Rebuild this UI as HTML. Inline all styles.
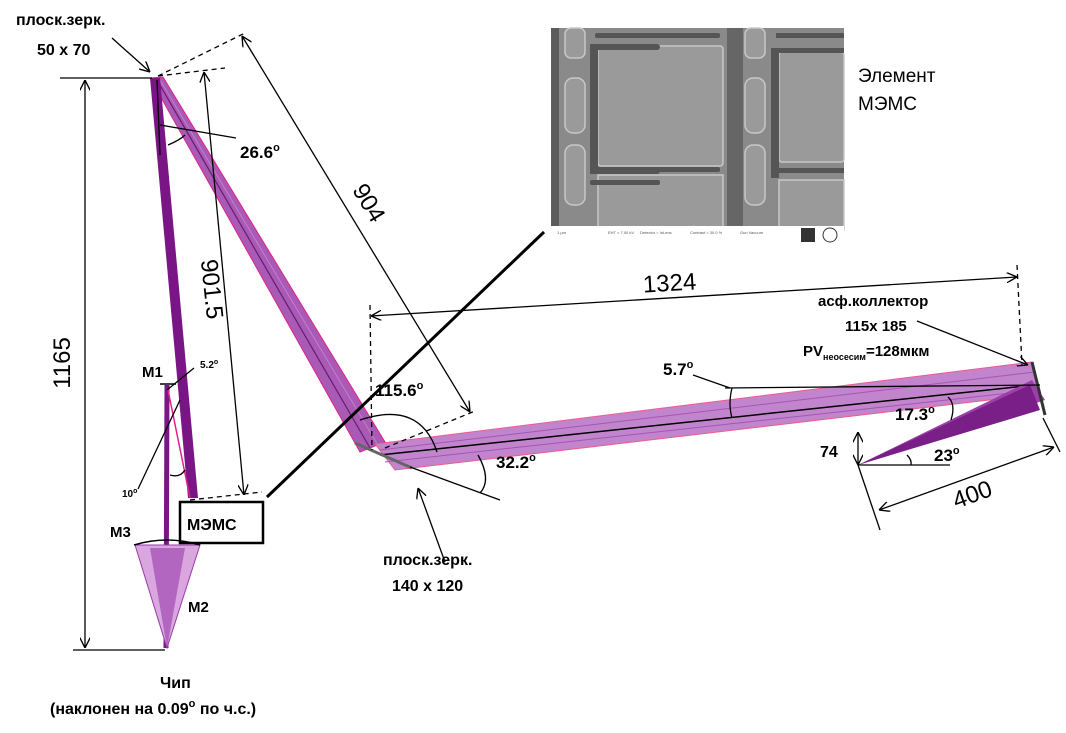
<!DOCTYPE html>
<html><head><meta charset="utf-8"><style>
html,body{margin:0;padding:0;background:#fff;}
svg{display:block;font-family:"Liberation Sans","DejaVu Sans",sans-serif;}
</style></head><body>
<svg width="1066" height="733" viewBox="0 0 1066 733" xmlns="http://www.w3.org/2000/svg">
<defs>
<marker id="a" viewBox="0 0 10 10" refX="10" refY="5" markerWidth="8" markerHeight="8" orient="auto-start-reverse"><path d="M0,0 L10,5 L0,10" fill="none" stroke="#000" stroke-width="1.3"/></marker>
</defs>
<rect width="1066" height="733" fill="#fff"/>

<!-- beams -->
<polygon points="150,78 163,77 385,442 360,452" fill="#a95ab5" stroke="#e0208a" stroke-width="1"/>
<line x1="157" y1="80" x2="370" y2="448" stroke="#6a1a70" stroke-width="1.2"/>
<line x1="160" y1="80" x2="378" y2="445" stroke="#c37fcc" stroke-width="1"/>
<polygon points="375,444 1032,362 1040,394 395,470" fill="#c284cd" stroke="#ee5c8a" stroke-width="1"/>
<g stroke="#a257b0" stroke-width="1">
<line x1="380" y1="450" x2="1035" y2="372"/>
<line x1="385" y1="462" x2="1037" y2="390"/>
</g>
<line x1="380" y1="455" x2="1035" y2="385" stroke="#000" stroke-width="1.5"/>
<polygon points="1032,380 1045,400 858,465" fill="#9c3fa8"/>
<polygon points="1030,385 1040,410 858,465" fill="#7a1f88"/>
<polygon points="150,78 160,78 198,498 188,498" fill="#7a1585"/>
<line x1="167" y1="385" x2="166" y2="648" stroke="#7a1585" stroke-width="5"/>
<line x1="168" y1="390" x2="190" y2="498" stroke="#e0208a" stroke-width="1.5"/>
<polygon points="135,545 200,545 167,648" fill="#d9a6e0" stroke="#9a3aa8" stroke-width="1"/>
<polygon points="150,548 185,548 167,648" fill="#a24cb0" opacity="0.7"/>
<path d="M134,545 Q167,535 200,545" fill="none" stroke="#000" stroke-width="1.5"/>
<line x1="160" y1="384" x2="176" y2="384" stroke="#000" stroke-width="1.5"/>
<line x1="355" y1="443" x2="412" y2="468" stroke="#666" stroke-width="3"/>
<line x1="1032" y1="362" x2="1045" y2="415" stroke="#333" stroke-width="3"/>

<!-- dimension lines -->
<g stroke="#000" stroke-width="1.3" fill="none">
<line x1="60" y1="78" x2="152" y2="78"/>
<line x1="73" y1="650" x2="165" y2="650"/>
<line x1="85" y1="80" x2="85" y2="648" marker-start="url(#a)" marker-end="url(#a)"/>
<line x1="242" y1="36" x2="470" y2="412" marker-start="url(#a)" marker-end="url(#a)"/>
<line x1="204" y1="72" x2="244" y2="495" marker-start="url(#a)" marker-end="url(#a)"/>
<line x1="371" y1="316" x2="1017" y2="277" marker-start="url(#a)" marker-end="url(#a)"/>
<line x1="879" y1="510" x2="1054" y2="447" marker-start="url(#a)" marker-end="url(#a)"/>
<line x1="858" y1="465" x2="858" y2="432" marker-end="url(#a)" marker-start="url(#a)"/>
<line x1="858" y1="465" x2="880" y2="530"/>
<line x1="1043" y1="418" x2="1060" y2="452"/>
<line x1="858" y1="465" x2="950" y2="465"/>
<line x1="725" y1="388" x2="1040" y2="385"/>
<line x1="410" y1="467" x2="500" y2="500"/>
<line x1="157" y1="80" x2="160" y2="155"/>
<line x1="160" y1="125" x2="236" y2="138"/>
<line x1="180" y1="400" x2="138" y2="489"/>
<line x1="167" y1="390" x2="194" y2="368"/>
<line x1="112" y1="38" x2="150" y2="72" marker-end="url(#a)"/>
<line x1="445" y1="562" x2="418" y2="488" marker-end="url(#a)"/>
<line x1="917" y1="321" x2="1028" y2="365" marker-end="url(#a)"/>
<line x1="693" y1="375" x2="730" y2="388"/>
<path d="M360,420 Q420,400 437,452"/>
<path d="M478,455 Q492,480 480,493"/>
<path d="M732,388 Q728,404 732,418"/>
<path d="M948,397 Q956,404 951,420"/>
<path d="M907,455 Q912,460 911,465"/>
<path d="M168,145 Q180,140 185,135"/>
<path d="M170,475 Q180,478 185,470"/>
</g>
<g stroke="#000" stroke-width="1.3" fill="none" stroke-dasharray="5,4">
<line x1="158" y1="76" x2="245" y2="33"/>
<line x1="158" y1="76" x2="225" y2="68"/>
<line x1="370" y1="305" x2="372" y2="450"/>
<line x1="385" y1="448" x2="475" y2="411"/>
<line x1="1017" y1="265" x2="1022" y2="365"/>
<line x1="190" y1="500" x2="262" y2="492"/>
</g>
<line x1="267" y1="497" x2="544" y2="232" stroke="#000" stroke-width="3"/>
<rect x="180" y="502" width="83" height="41" fill="none" stroke="#000" stroke-width="2.5"/>

<!-- SEM image -->
<rect x="551" y="28" width="293" height="198" fill="#8a8a8a"/>
<rect x="551" y="28" width="8" height="198" fill="#5c5c5c"/>
<rect x="727" y="28" width="16" height="198" fill="#666"/>
<g fill="#9a9a9a" stroke="#c8c8c8" stroke-width="1.5">
<rect x="598" y="46" width="125" height="120" rx="3"/>
<rect x="779" y="52" width="65" height="110" rx="3"/>
<rect x="598" y="175" width="125" height="55"/>
<rect x="779" y="180" width="65" height="50"/>
<rect x="565" y="78" width="20" height="55" rx="8"/>
<rect x="565" y="145" width="20" height="60" rx="8"/>
<rect x="745" y="78" width="20" height="55" rx="8"/>
<rect x="745" y="145" width="20" height="60" rx="8"/>
<rect x="565" y="28" width="20" height="30" rx="6"/>
<rect x="745" y="28" width="20" height="30" rx="6"/>
</g>
<g fill="#555">
<rect x="590" y="44" width="8" height="130"/><rect x="590" y="44" width="70" height="6" rx="3"/>
<rect x="590" y="168" width="70" height="6" rx="3"/><rect x="595" y="33" width="125" height="5" rx="2"/>
<rect x="595" y="167" width="125" height="5" rx="2"/><rect x="590" y="180" width="70" height="5" rx="2"/>
<rect x="771" y="48" width="8" height="130"/><rect x="771" y="48" width="73" height="5"/>
<rect x="771" y="168" width="73" height="5"/><rect x="776" y="33" width="68" height="5"/>
</g>
<rect x="551" y="226" width="293" height="20" fill="#fff"/>
<g font-size="4" fill="#555"><text x="557" y="234">1 μm</text><text x="608" y="234">EHT = 7.00 kV</text><text x="640" y="234">Detector = InLens</text><text x="690" y="234">Contrast = 30.0 %</text><text x="740" y="234">Gun Vacuum</text></g>
<rect x="801" y="228" width="14" height="14" fill="#333"/><circle cx="830" cy="235" r="7" fill="none" stroke="#333"/>

<!-- labels -->
<g fill="#000" font-weight="bold">
<text x="16" y="25" font-size="16">плоск.зерк.</text>
<text x="37" y="55" font-size="16">50 x 70</text>
<text x="240" y="158" font-size="17">26.6<tspan dy="-7" font-size="11">o</tspan></text>
<text x="142" y="377" font-size="15">M1</text>
<text x="200" y="368" font-size="10">5.2<tspan dy="-4" font-size="7">o</tspan></text>
<text x="122" y="497" font-size="10">10<tspan dy="-4" font-size="7">o</tspan></text>
<text x="110" y="537" font-size="15">M3</text>
<text x="187" y="530" font-size="16">МЭМС</text>
<text x="188" y="612" font-size="15">M2</text>
<text x="160" y="688" font-size="16">Чип</text>
<text x="50" y="714" font-size="16">(наклонен на 0.09<tspan dy="-7" font-size="11">o</tspan><tspan dy="7"> по ч.с.)</tspan></text>
<text x="375" y="396" font-size="17">115.6<tspan dy="-7" font-size="11">o</tspan></text>
<text x="496" y="468" font-size="17">32.2<tspan dy="-7" font-size="11">o</tspan></text>
<text x="383" y="565" font-size="16">плоск.зерк.</text>
<text x="392" y="591" font-size="16">140 x 120</text>
<text x="663" y="375" font-size="17">5.7<tspan dy="-7" font-size="11">o</tspan></text>
<text x="895" y="420" font-size="17">17.3<tspan dy="-7" font-size="11">o</tspan></text>
<text x="934" y="461" font-size="17">23<tspan dy="-7" font-size="11">o</tspan></text>
<text x="820" y="457" font-size="16">74</text>
<text x="818" y="306" font-size="15">асф.коллектор</text>
<text x="845" y="331" font-size="15">115x 185</text>
<text x="803" y="356" font-size="15">PV<tspan dy="4" font-size="9">неосесим</tspan><tspan dy="-4">=128мкм</tspan></text>
</g>
<g fill="#000" font-size="24">
<text transform="translate(70,363) rotate(-90)" text-anchor="middle">1165</text>
<text transform="translate(204,290) rotate(84)" text-anchor="middle">901.5</text>
<text transform="translate(362,207) rotate(59)" text-anchor="middle">904</text>
<text transform="translate(670,291) rotate(-3.4)" text-anchor="middle">1324</text>
<text transform="translate(975,502) rotate(-20)" text-anchor="middle">400</text>
</g>
<text x="858" y="82" font-size="19" fill="#000">Элемент</text>
<text x="858" y="110" font-size="19" fill="#000">МЭМС</text>
</svg>
</body></html>
